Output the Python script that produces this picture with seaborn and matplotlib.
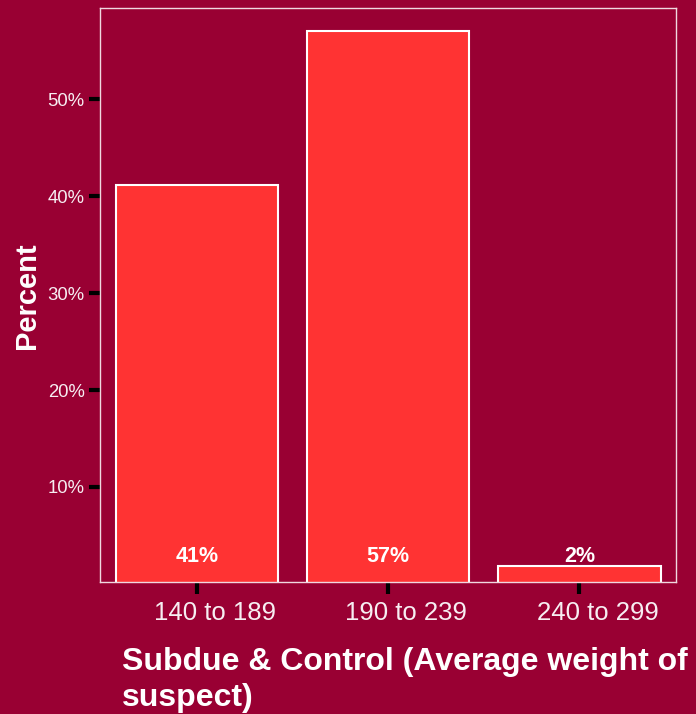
import matplotlib
matplotlib.use("Agg")
import matplotlib.pyplot as plt
import matplotlib.transforms as mtransforms
import seaborn as sns
import pandas as pd

categories = ["140 to 189", "190 to 239", "240 to 299"]
percent_values = [41.1, 57.0, 1.8]
bar_labels = ["41%", "57%", "2%"]
y_ticks = [10, 20, 30, 40, 50]
y_tick_labels = ["10%", "20%", "30%", "40%", "50%"]

BG = "#990033"
BAR = "#FF3333"
TXT = "#F7EEF2"

sns.set_theme(style="white")
plt.rcParams["font.family"] = ["Liberation Sans", "DejaVu Sans"]

fig = plt.figure(figsize=(6.96, 7.14), dpi=100, facecolor=BG)
ax = fig.add_axes([100 / 696, 1 - 582 / 714, 576 / 696, 574 / 714])
ax.set_facecolor(BG)

df = pd.DataFrame({"cat": categories, "val": percent_values})
sns.barplot(data=df, x="cat", y="val", color=BAR, saturation=1, width=0.85,
            edgecolor="white", linewidth=1.5, ax=ax)

for i, lab in enumerate(bar_labels):
    ax.text(i, 2.85, lab, ha="center", va="center", color="white",
            fontsize=15.5, fontweight="bold")

ax.set_xlim(-0.507, 2.505)
ax.set_ylim(0.2, 59.4)
ax.set_yticks(y_ticks)
ax.set_yticklabels(y_tick_labels)

for s in ax.spines.values():
    s.set_visible(True)
    s.set_color("#F0D8E0")
    s.set_linewidth(1.0)

ax.tick_params(axis="y", direction="out", length=8, width=3, color="black",
               labelsize=13.3, labelcolor=TXT, pad=3, left=True)
ax.tick_params(axis="x", direction="out", length=8.5, width=3, color="black",
               labelsize=18.5, labelcolor=TXT, pad=5, bottom=True)

offset = mtransforms.ScaledTranslation(18 / 100, 0, fig.dpi_scale_trans)
for lab in ax.get_xticklabels():
    lab.set_transform(lab.get_transform() + offset)

ax.set_xlabel("")
ax.set_ylabel("")
fig.text(27 / 696, 1 - 296 / 714, "Percent", rotation=90, ha="center", va="center",
         color="white", fontsize=21, fontweight="bold")

fig.text(122 / 696, 1 - 680 / 714, "Subdue & Control (Average weight of\nsuspect)",
         ha="left", va="center", color="white", fontsize=23, fontweight="bold",
         linespacing=1.25)

fig.savefig("out.png", dpi=100, facecolor=BG)
